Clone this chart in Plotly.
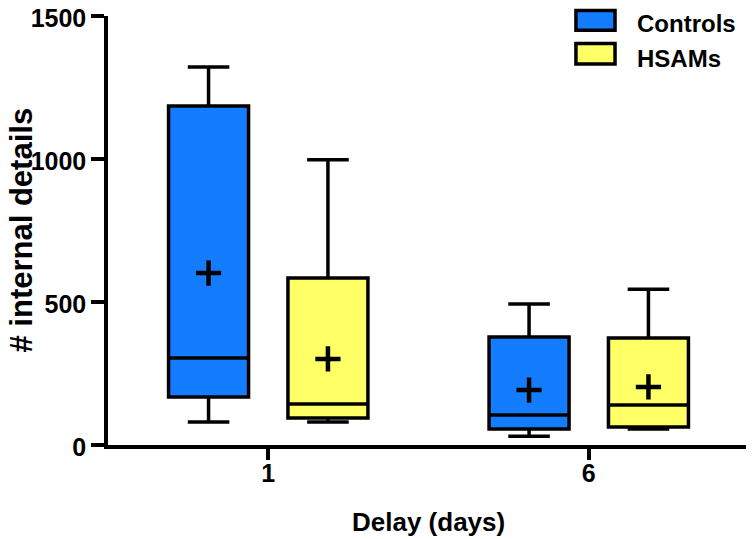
import plotly.graph_objects as go

BLUE = "#137CFF"
YELLOW = "#FFFF66"
FONT = "Liberation Sans"

delays = ["1", "6"]

# box summary values
ctrl_low = [80, 31]
ctrl_q1 = [168, 56]
ctrl_med = [304, 105]
ctrl_q3 = [1185, 378]
ctrl_high = [1322, 493]
ctrl_mean = [601, 192]

hsam_low = [80, 56]
hsam_q1 = [94, 63]
hsam_med = [143, 140]
hsam_q3 = [584, 374]
hsam_high = [997, 545]
hsam_mean = [301, 203]

fig = go.Figure()

for name, color, low, q1, med, q3, high in (
    ("Controls", BLUE, ctrl_low, ctrl_q1, ctrl_med, ctrl_q3, ctrl_high),
    ("HSAMs", YELLOW, hsam_low, hsam_q1, hsam_med, hsam_q3, hsam_high),
):
    fig.add_trace(go.Box(
        x=delays, lowerfence=low, q1=q1, median=med, q3=q3, upperfence=high,
        name=name, offsetgroup=name, fillcolor=color,
        line=dict(color="black", width=3.5), whiskerwidth=0.52,
        boxpoints=False, showlegend=False,
    ))

for name, mean in (("Controls", ctrl_mean), ("HSAMs", hsam_mean)):
    fig.add_trace(go.Scatter(
        x=delays, y=mean, mode="markers", offsetgroup=name, name=name,
        marker=dict(symbol="cross-thin", size=18, line=dict(color="black", width=4.5)),
        showlegend=False,
    ))

# legend drawn by hand so the swatches match the original size
for (y0, y1, ty), name, color in (((0.967, 1.013, 1.0186), "Controls", BLUE),
                                  ((0.888, 0.936, 0.937), "HSAMs", YELLOW)):
    fig.add_shape(type="rect", xref="paper", yref="paper", x0=0.730, x1=0.791,
                  y0=y0, y1=y1, fillcolor=color, line=dict(color="black", width=3.5))
    fig.add_annotation(xref="paper", yref="paper", x=0.822, y=ty, text=name,
                       showarrow=False, xanchor="left", yanchor="top",
                       font=dict(family=FONT, size=24, color="black", weight="bold"))

# axis titles as annotations (plotly ignores standoff without automargin)
fig.add_annotation(xref="paper", yref="paper", x=-0.1357, y=0.5, text="# internal details",
                   textangle=-90, showarrow=False, xanchor="center", yanchor="middle",
                   font=dict(family=FONT, size=31, color="black", weight="bold"))
fig.add_annotation(xref="paper", yref="paper", x=0.5, y=-0.1795, text="Delay (days)",
                   showarrow=False, xanchor="center", yanchor="middle",
                   font=dict(family=FONT, size=26, color="black", weight="bold"))

fig.update_layout(
    width=746, height=531, paper_bgcolor="white", plot_bgcolor="white",
    margin=dict(l=100, r=5, t=8, b=94),
    boxmode="group", boxgap=0.255, boxgroupgap=0.33,
    scattermode="group", scattergap=0.255,
    font=dict(family=FONT, size=20, color="black"),
)
axis_style = dict(
    showline=True, linecolor="black", linewidth=3.5,
    ticks="outside", tickwidth=3.5, tickcolor="black",
    tickfont=dict(family=FONT, size=25, color="black", weight="bold"),
    showgrid=False, zeroline=False, ticklabeloverflow="allow", automargin=False,
)
fig.update_xaxes(type="category", range=[-0.5, 1.5], ticklen=11, ticklabelstandoff=-8,
                 **axis_style)
fig.update_yaxes(range=[0, 1500], tickvals=[0, 500, 1000, 1500], ticklen=13,
                 ticklabelshift=2, **axis_style)

fig.write_html("out.html")
